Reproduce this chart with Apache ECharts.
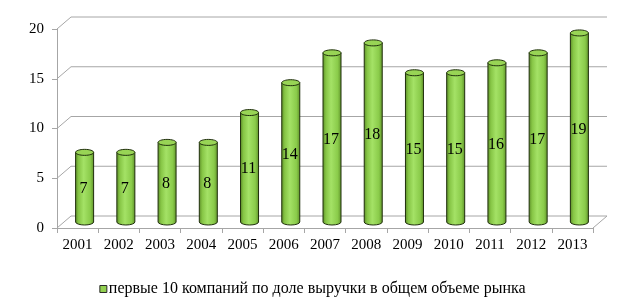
<!DOCTYPE html>
<html>
<head>
<meta charset="utf-8">
<script src="https://cdn.jsdelivr.net/npm/echarts@6/dist/echarts.min.js"></script>
<style>
  html, body { margin: 0; padding: 0; background: #fff; }
  #chart { width: 625px; height: 308px; }
</style>
</head>
<body>
<div id="chart"></div>
<script>
// categories and values
const years = ['2001', '2002', '2003', '2004', '2005', '2006', '2007', '2008', '2009', '2010', '2011', '2012', '2013']
const shareTop10 = [7, 7, 8, 8, 11, 14, 17, 18, 15, 15, 16, 17, 19]
const yTicks = [0, 5, 10, 15, 20]
const seriesName = 'первые 10 компаний по доле выручки в общем объеме рынка'

// fake 3D depth (pixels)
const DX = 14
const DY = -12
const FONT = 'Liberation Serif'
const GRID_COLOR = '#a6a6a6'

const chart = echarts.init(document.getElementById('chart'), null, { renderer: 'canvas' })

// back wall grid lines + floor
function renderWall (params, api) {
  const cs = params.coordSys
  const v = api.value(1)
  const y = api.coord([0, v])[1]
  const x0 = cs.x
  const x1 = cs.x + cs.width
  const children = [{
    type: 'polyline',
    shape: { points: [[x0, y], [x0 + DX, y + DY], [x1 + DX, y + DY]] },
    style: { stroke: GRID_COLOR, lineWidth: 1, fill: null }
  }]
  if (v === 0) {
    children.push({
      type: 'line',
      shape: { x1: x1, y1: y, x2: x1 + DX, y2: y + DY },
      style: { stroke: GRID_COLOR, lineWidth: 1 }
    })
  }
  return { type: 'group', children: children }
}

// cylinder bars
function renderCylinder (params, api) {
  const idx = api.value(0)
  const val = api.value(1)
  const top = api.coord([idx, val])
  const base = api.coord([idx, 0])
  const cx = top[0] + DX / 2
  const yt = top[1] + DY / 2
  const yb = base[1] + DY / 2
  const rx = 9
  const ry = 3
  const l = cx - rx
  const r = cx + rx
  const body = 'M' + l + ' ' + yt + ' L' + l + ' ' + yb +
    ' A' + rx + ' ' + ry + ' 0 0 0 ' + r + ' ' + yb +
    ' L' + r + ' ' + yt + ' Z'
  return {
    type: 'group',
    children: [
      {
        type: 'path',
        shape: { pathData: body },
        style: {
          fill: new echarts.graphic.LinearGradient(0, 0, 1, 0, [
            { offset: 0, color: '#5a8a26' },
            { offset: 0.18, color: '#86c545' },
            { offset: 0.45, color: '#a4e266' },
            { offset: 0.8, color: '#8acb4a' },
            { offset: 1, color: '#5e9029' }
          ]),
          stroke: '#1f2e0c',
          lineWidth: 1
        }
      },
      {
        type: 'ellipse',
        shape: { cx: cx, cy: yt, rx: rx, ry: ry },
        style: { fill: '#98d455', stroke: '#1f2e0c', lineWidth: 1 }
      },
      {
        type: 'text',
        style: {
          x: cx - 1,
          y: (yt + yb) / 2 + 2,
          text: String(val),
          fill: '#000',
          font: '16px "' + FONT + '"',
          align: 'center',
          verticalAlign: 'middle'
        }
      }
    ]
  }
}

const option = {
  animation: false,
  grid: { left: 57, right: 32, top: 29, bottom: 80 },
  legend: {
    data: [seriesName],
    left: 'center',
    top: 276,
    icon: 'rect',
    itemWidth: 7,
    itemHeight: 7,
    itemGap: 4,
    itemStyle: { color: '#92d050', borderColor: '#2a2a2a', borderWidth: 1 },
    textStyle: { fontFamily: FONT, fontSize: 16, color: '#000', padding: [0, 0, 0, -3] }
  },
  xAxis: {
    type: 'category',
    data: years,
    axisLine: { lineStyle: { color: GRID_COLOR } },
    axisTick: { show: true, length: 5, lineStyle: { color: GRID_COLOR } },
    axisLabel: { fontFamily: FONT, fontSize: 15, color: '#000', margin: 10 },
    splitLine: { show: false }
  },
  yAxis: {
    type: 'value',
    min: 0,
    max: 20,
    interval: 5,
    axisLine: { show: true, lineStyle: { color: GRID_COLOR } },
    axisTick: { show: true, length: 5, lineStyle: { color: GRID_COLOR } },
    axisLabel: { fontFamily: FONT, fontSize: 15, color: '#000', margin: 13 },
    splitLine: { show: false }
  },
  series: [
    {
      name: 'wall',
      type: 'custom',
      silent: true,
      z: 1,
      renderItem: renderWall,
      encode: { x: 0, y: 1 },
      data: yTicks.map(v => [0, v])
    },
    {
      name: seriesName,
      type: 'custom',
      z: 3,
      itemStyle: { color: '#92d050' },
      renderItem: renderCylinder,
      encode: { x: 0, y: 1 },
      data: shareTop10.map((v, i) => [i, v])
    }
  ]
}
chart.setOption(option)
</script>
</body>
</html>
